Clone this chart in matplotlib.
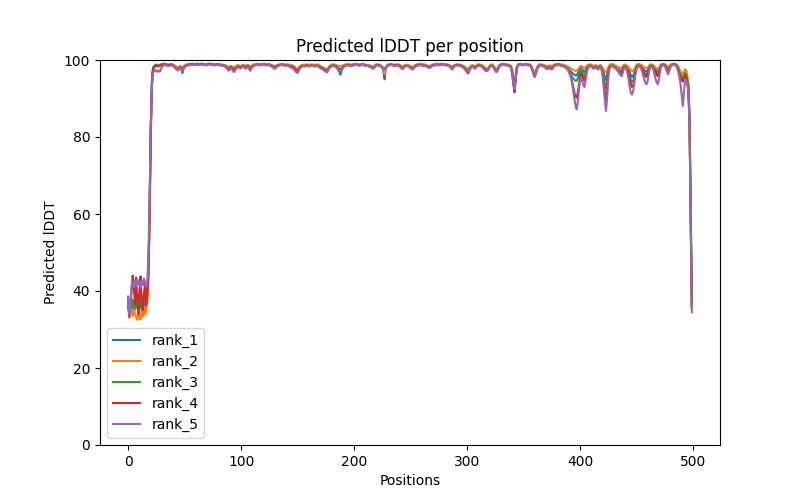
import matplotlib
matplotlib.use("Agg")
import matplotlib.pyplot as plt

# pLDDT per residue (500 positions per model)
rank_1 = [
    37.0, 34.0, 35.5, 36.8, 34.8, 36.5, 35.2, 37.8, 36.0, 34.5, 37.0, 35.6, 37.8, 36.2, 37.5, 35.4, 38.2, 39.5, 45.0, 60.0,
    82.0, 94.0, 97.8, 98.3, 98.6, 98.8, 98.5, 98.7, 98.6, 98.8, 98.9, 98.9, 99.0, 98.9, 98.8, 98.8, 98.7, 98.8, 98.9, 98.8,
    98.6, 98.4, 98.2, 98.0, 97.9, 98.1, 98.3, 98.0, 97.8, 98.2, 98.4, 98.6, 98.7, 98.8, 98.9, 98.9, 99.0, 99.0, 98.9, 98.9,
    99.0, 99.0, 98.9, 98.9, 99.0, 99.0, 99.0, 98.9, 98.9, 98.8, 98.9, 99.0, 99.0, 99.0, 98.9, 98.9, 98.8, 98.8, 98.9, 98.9,
    98.9, 98.8, 98.8, 98.7, 98.7, 98.6, 98.5, 98.3, 98.0, 97.8, 98.1, 98.3, 98.0, 97.8, 97.7, 98.0, 98.3, 98.5, 98.4, 98.2,
    98.3, 98.5, 98.6, 98.4, 98.2, 98.4, 98.6, 98.3, 98.0, 98.2, 98.5, 98.7, 98.8, 98.8, 98.9, 98.9, 98.8, 98.8, 98.9, 98.9,
    98.9, 98.9, 98.8, 98.8, 98.9, 98.8, 98.7, 98.6, 98.4, 98.3, 98.2, 98.4, 98.6, 98.7, 98.8, 98.8, 98.9, 98.8, 98.8, 98.7,
    98.7, 98.8, 98.7, 98.5, 98.4, 98.5, 98.3, 98.0, 97.8, 97.5, 97.3, 97.7, 98.2, 98.4, 98.5, 98.6, 98.5, 98.6, 98.7, 98.6,
    98.5, 98.6, 98.7, 98.7, 98.6, 98.5, 98.6, 98.7, 98.6, 98.4, 98.3, 98.1, 98.0, 97.8, 97.6, 97.4, 97.3, 97.7, 98.1, 98.4,
    98.6, 98.7, 98.7, 98.6, 98.5, 98.3, 98.0, 97.7, 97.5, 97.9, 98.3, 98.5, 98.6, 98.7, 98.8, 98.8, 98.7, 98.6, 98.7, 98.8,
    98.8, 98.9, 98.9, 98.8, 98.8, 98.7, 98.8, 98.9, 98.9, 98.8, 98.7, 98.6, 98.6, 98.5, 98.4, 98.3, 98.2, 98.0, 98.3, 98.6,
    98.8, 98.8, 98.7, 98.6, 98.4, 98.0, 97.0, 95.0, 97.5, 98.4, 98.7, 98.8, 98.9, 98.9, 98.8, 98.7, 98.6, 98.7, 98.8, 98.7,
    98.6, 98.4, 98.2, 98.0, 98.3, 98.5, 98.6, 98.6, 98.5, 98.4, 98.2, 98.0, 97.9, 98.2, 98.5, 98.6, 98.7, 98.8, 98.8, 98.8,
    98.8, 98.7, 98.7, 98.6, 98.5, 98.4, 98.3, 98.2, 98.4, 98.6, 98.7, 98.8, 98.8, 98.9, 98.9, 98.8, 98.8, 98.9, 98.9, 98.9,
    98.9, 98.8, 98.8, 98.7, 98.6, 98.4, 98.2, 98.0, 98.3, 98.6, 98.7, 98.8, 98.8, 98.7, 98.6, 98.5, 98.4, 98.2, 98.0, 97.7,
    97.3, 97.2, 97.6, 98.1, 98.4, 98.5, 98.3, 98.0, 98.3, 98.6, 98.7, 98.7, 98.6, 98.5, 98.3, 98.0, 97.7, 97.5, 97.4, 97.8,
    98.3, 98.6, 98.7, 98.5, 98.0, 97.5, 97.1, 97.5, 98.2, 98.6, 98.8, 98.9, 98.9, 98.9, 98.8, 98.8, 98.7, 98.6, 98.5, 98.2,
    97.0, 94.5, 92.5, 95.5, 98.0, 98.7, 98.9, 98.9, 98.9, 98.8, 98.8, 98.9, 98.9, 98.9, 98.8, 98.8, 98.6, 98.2, 97.5, 96.5,
    96.0, 96.8, 97.8, 98.4, 98.6, 98.7, 98.7, 98.6, 98.5, 98.3, 98.2, 98.0, 98.1, 98.3, 98.1, 98.0, 98.3, 98.6, 98.7, 98.8,
    98.8, 98.9, 98.8, 98.7, 98.6, 98.5, 98.4, 98.2, 98.0, 97.8, 97.6, 97.3, 97.0, 96.7, 96.4, 96.2, 96.0, 96.0, 96.5, 97.2,
    97.8, 98.0, 97.6, 97.0, 96.8, 97.4, 98.0, 98.4, 98.6, 98.7, 98.6, 98.3, 98.1, 98.3, 98.4, 98.2, 98.0, 98.3, 98.5, 98.2,
    97.6, 96.8, 95.5, 94.8, 96.0, 97.5, 98.3, 98.6, 98.7, 98.6, 98.4, 98.2, 98.0, 97.8, 97.6, 97.2, 96.9, 97.3, 98.0, 98.4,
    98.5, 98.3, 98.0, 97.5, 96.8, 96.0, 95.6, 95.8, 96.5, 97.5, 98.3, 98.6, 98.7, 98.6, 98.4, 98.1, 97.7, 97.3, 97.0, 97.0,
    97.4, 98.0, 98.5, 98.7, 98.6, 98.3, 97.9, 97.5, 97.1, 97.0, 97.6, 98.3, 98.7, 98.9, 98.9, 98.8, 98.5, 98.0, 97.7, 98.1,
    98.6, 98.8, 98.9, 99.0, 98.9, 98.8, 98.5, 98.0, 97.0, 96.0, 95.5, 95.3, 95.8, 96.5, 96.0, 94.5, 93.0, 84.0, 60.0, 36.0,
]

rank_2 = [
    35.5, 33.0, 34.2, 36.0, 33.5, 35.8, 34.0, 33.2, 32.5, 35.0, 33.0, 32.6, 35.5, 33.4, 36.0, 33.8, 35.2, 37.0, 44.0, 58.0,
    80.0, 93.0, 97.5, 98.0, 98.5, 98.8, 98.6, 98.8, 98.7, 98.9, 99.0, 99.0, 99.0, 98.9, 98.9, 98.8, 98.8, 98.9, 98.9, 98.9,
    98.8, 98.6, 98.4, 98.2, 98.1, 98.3, 98.5, 98.3, 98.1, 98.4, 98.6, 98.8, 98.9, 98.9, 99.0, 99.0, 99.0, 99.0, 99.0, 98.9,
    99.0, 99.0, 99.0, 99.0, 99.0, 99.0, 99.0, 99.0, 98.9, 98.9, 99.0, 99.0, 99.0, 99.0, 99.0, 98.9, 98.9, 98.9, 98.9, 99.0,
    99.0, 98.9, 98.9, 98.8, 98.8, 98.7, 98.6, 98.5, 98.3, 98.1, 98.3, 98.5, 98.3, 98.1, 98.0, 98.3, 98.5, 98.7, 98.6, 98.4,
    98.5, 98.7, 98.8, 98.6, 98.4, 98.6, 98.8, 98.5, 98.3, 98.5, 98.7, 98.9, 98.9, 98.9, 99.0, 99.0, 98.9, 98.9, 99.0, 99.0,
    99.0, 99.0, 98.9, 98.9, 99.0, 98.9, 98.8, 98.7, 98.6, 98.5, 98.4, 98.6, 98.7, 98.8, 98.9, 98.9, 99.0, 98.9, 98.9, 98.8,
    98.8, 98.9, 98.8, 98.7, 98.6, 98.7, 98.5, 98.3, 98.1, 97.9, 97.7, 98.0, 98.4, 98.6, 98.7, 98.8, 98.7, 98.8, 98.9, 98.8,
    98.7, 98.8, 98.9, 98.9, 98.8, 98.7, 98.8, 98.9, 98.8, 98.6, 98.5, 98.3, 98.2, 98.0, 97.9, 97.7, 97.6, 98.0, 98.3, 98.6,
    98.8, 98.9, 98.9, 98.8, 98.7, 98.6, 98.5, 98.4, 98.4, 98.5, 98.6, 98.7, 98.8, 98.9, 99.0, 99.0, 98.9, 98.8, 98.9, 99.0,
    99.0, 99.0, 99.0, 98.9, 98.9, 98.8, 98.9, 99.0, 99.0, 98.9, 98.8, 98.8, 98.7, 98.7, 98.6, 98.5, 98.4, 98.3, 98.5, 98.8,
    98.9, 98.9, 98.8, 98.7, 98.5, 98.2, 97.5, 96.3, 97.8, 98.6, 98.8, 98.9, 99.0, 99.0, 98.9, 98.8, 98.8, 98.9, 98.9, 98.8,
    98.8, 98.6, 98.4, 98.3, 98.5, 98.7, 98.8, 98.8, 98.7, 98.6, 98.4, 98.3, 98.2, 98.4, 98.7, 98.8, 98.9, 99.0, 99.0, 99.0,
    99.0, 98.9, 98.9, 98.8, 98.7, 98.6, 98.5, 98.4, 98.6, 98.8, 98.9, 99.0, 99.0, 99.0, 99.0, 99.0, 99.0, 99.0, 99.0, 99.0,
    99.0, 98.9, 98.9, 98.8, 98.7, 98.6, 98.4, 98.3, 98.5, 98.7, 98.8, 98.9, 98.9, 98.8, 98.8, 98.7, 98.6, 98.5, 98.3, 98.1,
    97.8, 97.7, 98.0, 98.4, 98.6, 98.7, 98.5, 98.3, 98.5, 98.8, 98.9, 98.9, 98.8, 98.7, 98.5, 98.3, 98.0, 97.8, 97.7, 98.1,
    98.5, 98.8, 98.9, 98.7, 98.3, 97.9, 97.6, 97.9, 98.5, 98.8, 98.9, 99.0, 99.0, 99.0, 98.9, 98.9, 98.8, 98.8, 98.7, 98.5,
    97.5, 95.0, 93.0, 96.0, 98.3, 98.8, 99.0, 99.0, 99.0, 98.9, 98.9, 99.0, 99.0, 99.0, 98.9, 98.9, 98.8, 98.5, 97.9, 97.0,
    96.6, 97.3, 98.2, 98.7, 98.9, 98.9, 98.9, 98.8, 98.7, 98.6, 98.5, 98.4, 98.5, 98.6, 98.5, 98.4, 98.6, 98.8, 98.9, 99.0,
    99.0, 99.0, 99.0, 98.9, 98.8, 98.8, 98.7, 98.6, 98.5, 98.4, 98.2, 98.0, 97.8, 97.6, 97.5, 97.3, 97.2, 97.2, 97.5, 97.9,
    98.3, 98.5, 98.3, 98.0, 97.9, 98.2, 98.5, 98.7, 98.8, 98.9, 98.8, 98.6, 98.4, 98.6, 98.7, 98.5, 98.3, 98.5, 98.7, 98.4,
    98.0, 97.5, 97.0, 96.8, 97.4, 98.2, 98.7, 98.9, 99.0, 98.9, 98.8, 98.6, 98.5, 98.3, 98.2, 98.0, 97.8, 98.1, 98.5, 98.8,
    98.8, 98.7, 98.5, 98.2, 97.8, 97.4, 97.1, 97.2, 97.6, 98.2, 98.7, 98.9, 99.0, 98.9, 98.8, 98.6, 98.4, 98.1, 97.9, 97.8,
    98.1, 98.5, 98.8, 98.9, 98.8, 98.6, 98.3, 98.0, 97.8, 97.7, 98.1, 98.6, 98.9, 99.0, 99.0, 98.9, 98.7, 98.4, 98.2, 98.5,
    98.8, 98.9, 99.0, 99.0, 99.0, 98.9, 98.7, 98.3, 97.6, 97.0, 96.5, 96.2, 97.0, 97.6, 97.3, 96.0, 94.0, 86.0, 64.0, 40.0,
]

rank_3 = [
    36.0, 34.2, 36.5, 38.0, 35.5, 37.5, 36.0, 38.5, 35.8, 37.2, 39.0, 36.4, 38.2, 37.0, 39.5, 36.8, 38.8, 40.5, 47.0, 62.0,
    83.0, 94.5, 98.0, 98.4, 98.7, 98.7, 98.5, 98.6, 98.5, 98.7, 98.8, 98.9, 98.9, 98.8, 98.7, 98.7, 98.6, 98.7, 98.8, 98.7,
    98.5, 98.3, 98.0, 97.8, 97.6, 97.9, 98.0, 97.4, 96.6, 97.6, 98.3, 98.5, 98.6, 98.7, 98.8, 98.8, 98.9, 98.9, 98.8, 98.8,
    98.9, 98.9, 98.8, 98.8, 98.9, 98.9, 98.9, 98.8, 98.8, 98.7, 98.8, 98.9, 98.9, 98.9, 98.8, 98.8, 98.7, 98.7, 98.8, 98.8,
    98.8, 98.7, 98.7, 98.6, 98.6, 98.5, 98.4, 98.2, 97.9, 97.7, 98.0, 98.2, 97.9, 97.6, 97.5, 97.9, 98.2, 98.4, 98.3, 98.1,
    98.2, 98.4, 98.5, 98.3, 98.1, 98.3, 98.5, 98.2, 97.9, 98.1, 98.4, 98.6, 98.7, 98.7, 98.8, 98.8, 98.7, 98.7, 98.8, 98.8,
    98.8, 98.8, 98.7, 98.7, 98.8, 98.7, 98.6, 98.5, 98.3, 98.2, 98.1, 98.3, 98.5, 98.6, 98.7, 98.7, 98.8, 98.7, 98.7, 98.6,
    98.6, 98.7, 98.6, 98.4, 98.3, 98.4, 98.2, 97.9, 97.6, 97.3, 97.1, 97.5, 98.1, 98.3, 98.4, 98.5, 98.4, 98.5, 98.6, 98.5,
    98.4, 98.5, 98.6, 98.6, 98.5, 98.4, 98.5, 98.6, 98.5, 98.3, 98.2, 98.0, 97.9, 97.7, 97.5, 97.3, 97.2, 97.6, 98.0, 98.3,
    98.5, 98.6, 98.6, 98.5, 98.3, 98.0, 97.5, 96.8, 96.1, 97.2, 98.1, 98.4, 98.5, 98.6, 98.7, 98.7, 98.6, 98.5, 98.6, 98.7,
    98.7, 98.8, 98.8, 98.7, 98.7, 98.6, 98.7, 98.8, 98.8, 98.7, 98.6, 98.5, 98.5, 98.4, 98.3, 98.2, 98.1, 97.9, 98.2, 98.5,
    98.7, 98.7, 98.6, 98.5, 98.3, 98.1, 97.9, 97.8, 98.1, 98.4, 98.6, 98.7, 98.8, 98.8, 98.7, 98.6, 98.5, 98.6, 98.7, 98.6,
    98.5, 98.3, 98.1, 97.9, 98.2, 98.4, 98.5, 98.5, 98.4, 98.3, 98.1, 97.9, 97.8, 98.1, 98.4, 98.5, 98.6, 98.7, 98.7, 98.7,
    98.7, 98.6, 98.6, 98.5, 98.4, 98.3, 98.2, 98.1, 98.3, 98.5, 98.6, 98.7, 98.7, 98.8, 98.8, 98.7, 98.7, 98.8, 98.8, 98.8,
    98.8, 98.7, 98.7, 98.6, 98.4, 98.1, 97.8, 97.5, 98.0, 98.5, 98.6, 98.7, 98.7, 98.6, 98.5, 98.4, 98.3, 98.1, 97.9, 97.6,
    97.2, 97.1, 97.5, 98.0, 98.3, 98.4, 98.2, 97.9, 98.2, 98.5, 98.6, 98.6, 98.5, 98.4, 98.2, 97.9, 97.6, 97.4, 97.3, 97.7,
    98.2, 98.5, 98.6, 98.4, 97.9, 97.4, 97.0, 97.4, 98.1, 98.5, 98.7, 98.8, 98.8, 98.8, 98.7, 98.7, 98.6, 98.5, 98.4, 98.1,
    96.9, 94.3, 92.3, 95.3, 97.9, 98.6, 98.8, 98.8, 98.8, 98.7, 98.7, 98.8, 98.8, 98.8, 98.7, 98.7, 98.5, 98.0, 97.2, 96.0,
    95.6, 96.5, 97.6, 98.3, 98.5, 98.6, 98.6, 98.5, 98.4, 98.2, 98.0, 97.8, 97.9, 98.1, 97.9, 97.8, 98.1, 98.5, 98.6, 98.7,
    98.7, 98.8, 98.7, 98.6, 98.5, 98.4, 98.3, 98.1, 98.0, 97.8, 97.4, 96.9, 96.3, 95.7, 95.2, 94.9, 94.6, 94.6, 95.2, 96.0,
    96.8, 97.2, 96.6, 96.0, 95.8, 96.6, 97.6, 98.2, 98.5, 98.6, 98.5, 98.2, 98.0, 98.2, 98.3, 98.1, 97.9, 98.2, 98.4, 98.0,
    97.0, 95.8, 93.5, 92.5, 94.5, 97.0, 98.1, 98.5, 98.6, 98.5, 98.3, 98.1, 97.9, 97.6, 97.3, 96.8, 96.5, 96.9, 97.8, 98.3,
    98.4, 98.1, 97.6, 96.8, 95.8, 94.8, 94.3, 94.5, 95.5, 97.0, 98.1, 98.5, 98.6, 98.5, 98.2, 97.8, 97.2, 96.6, 96.2, 96.1,
    96.8, 97.7, 98.3, 98.6, 98.5, 98.1, 97.5, 96.9, 96.4, 96.2, 97.1, 98.0, 98.6, 98.8, 98.8, 98.7, 98.3, 97.7, 97.3, 97.8,
    98.3, 98.6, 98.8, 98.9, 98.8, 98.6, 98.3, 97.7, 96.8, 96.0, 95.7, 95.5, 96.0, 96.6, 96.2, 94.8, 93.0, 84.0, 60.0, 36.5,
]

rank_4 = [
    38.5, 33.5, 36.0, 40.0, 44.0, 41.0, 36.5, 43.5, 38.0, 34.0, 40.5, 43.8, 37.0, 35.0, 39.5, 42.0, 36.5, 39.0, 46.0, 61.0,
    81.0, 93.5, 97.6, 98.2, 98.5, 98.6, 98.3, 98.5, 98.4, 98.7, 98.8, 98.8, 98.9, 98.8, 98.7, 98.7, 98.6, 98.7, 98.8, 98.7,
    98.5, 98.2, 97.9, 97.6, 97.5, 97.8, 98.1, 97.8, 97.4, 98.0, 98.3, 98.5, 98.6, 98.7, 98.8, 98.8, 98.9, 98.9, 98.8, 98.8,
    98.9, 98.9, 98.8, 98.8, 98.9, 98.9, 98.9, 98.8, 98.7, 98.7, 98.8, 98.9, 98.9, 98.9, 98.8, 98.8, 98.7, 98.7, 98.8, 98.8,
    98.8, 98.7, 98.7, 98.6, 98.6, 98.5, 98.4, 98.1, 97.8, 97.6, 97.9, 98.1, 97.8, 97.5, 97.4, 97.8, 98.1, 98.3, 98.2, 98.0,
    98.1, 98.3, 98.4, 98.2, 98.0, 98.2, 98.4, 98.1, 97.8, 98.0, 98.3, 98.5, 98.7, 98.7, 98.8, 98.8, 98.7, 98.7, 98.8, 98.8,
    98.8, 98.8, 98.7, 98.7, 98.8, 98.7, 98.6, 98.5, 98.3, 98.1, 98.0, 98.2, 98.5, 98.6, 98.7, 98.7, 98.8, 98.7, 98.7, 98.6,
    98.6, 98.7, 98.6, 98.4, 98.2, 98.3, 98.1, 97.8, 97.5, 97.2, 97.0, 97.4, 98.0, 98.3, 98.4, 98.5, 98.4, 98.5, 98.6, 98.5,
    98.4, 98.5, 98.6, 98.6, 98.5, 98.4, 98.5, 98.6, 98.5, 98.3, 98.1, 97.9, 97.8, 97.6, 97.3, 97.1, 97.0, 97.5, 97.9, 98.2,
    98.4, 98.5, 98.5, 98.4, 98.2, 97.9, 97.6, 97.3, 97.1, 97.6, 98.1, 98.3, 98.5, 98.6, 98.7, 98.7, 98.6, 98.5, 98.6, 98.7,
    98.7, 98.8, 98.8, 98.7, 98.7, 98.6, 98.7, 98.8, 98.8, 98.7, 98.6, 98.5, 98.5, 98.4, 98.3, 98.2, 98.0, 97.8, 98.1, 98.5,
    98.7, 98.7, 98.6, 98.5, 98.3, 98.1, 97.9, 97.7, 98.0, 98.4, 98.6, 98.7, 98.8, 98.8, 98.7, 98.6, 98.5, 98.6, 98.7, 98.6,
    98.5, 98.3, 98.0, 97.8, 98.1, 98.4, 98.5, 98.5, 98.4, 98.2, 98.0, 97.8, 97.7, 98.0, 98.4, 98.5, 98.6, 98.7, 98.7, 98.7,
    98.7, 98.6, 98.6, 98.5, 98.4, 98.3, 98.2, 98.0, 98.3, 98.5, 98.6, 98.7, 98.7, 98.8, 98.8, 98.7, 98.7, 98.8, 98.8, 98.8,
    98.8, 98.7, 98.7, 98.6, 98.5, 98.3, 98.1, 97.9, 98.2, 98.5, 98.6, 98.7, 98.7, 98.6, 98.5, 98.4, 98.2, 98.0, 97.7, 97.3,
    96.8, 96.5, 97.2, 97.9, 98.3, 98.4, 98.2, 97.9, 98.2, 98.5, 98.6, 98.6, 98.5, 98.4, 98.2, 97.8, 97.5, 97.3, 97.2, 97.6,
    98.1, 98.4, 98.5, 98.3, 97.8, 97.3, 96.9, 97.3, 98.0, 98.5, 98.7, 98.8, 98.8, 98.8, 98.7, 98.7, 98.6, 98.5, 98.3, 98.0,
    96.6, 93.8, 91.6, 94.8, 97.7, 98.5, 98.8, 98.8, 98.8, 98.7, 98.7, 98.8, 98.8, 98.8, 98.7, 98.7, 98.5, 98.1, 97.4, 96.4,
    96.0, 96.7, 97.7, 98.3, 98.5, 98.6, 98.6, 98.5, 98.4, 98.2, 98.0, 97.8, 97.9, 98.1, 97.9, 97.7, 98.1, 98.5, 98.6, 98.7,
    98.7, 98.8, 98.7, 98.6, 98.5, 98.4, 98.3, 98.1, 97.9, 97.5, 97.0, 96.3, 95.5, 94.5, 93.0, 91.5, 90.5, 90.2, 91.5, 93.5,
    95.5, 96.5, 96.0, 95.0, 94.6, 95.8, 97.3, 98.0, 98.4, 98.5, 98.4, 98.1, 97.9, 98.1, 98.2, 98.0, 97.7, 98.0, 98.3, 97.8,
    96.5, 94.0, 91.0, 89.8, 92.5, 96.2, 97.9, 98.4, 98.5, 98.4, 98.2, 98.0, 97.7, 97.4, 97.0, 96.5, 96.2, 96.7, 97.6, 98.2,
    98.3, 97.9, 97.2, 96.2, 95.0, 93.8, 93.0, 93.3, 94.6, 96.6, 97.9, 98.4, 98.5, 98.4, 98.1, 97.6, 96.9, 96.2, 95.7, 95.6,
    96.5, 97.5, 98.2, 98.5, 98.4, 98.0, 97.3, 96.6, 96.0, 95.8, 96.8, 97.9, 98.5, 98.8, 98.8, 98.6, 98.2, 97.5, 97.0, 97.6,
    98.2, 98.6, 98.8, 98.9, 98.8, 98.6, 98.2, 97.5, 96.4, 95.3, 94.8, 94.4, 95.2, 96.0, 95.5, 94.0, 92.5, 83.0, 59.0, 35.5,
]

rank_5 = [
    38.5, 33.8, 36.0, 41.5, 42.5, 41.0, 42.8, 41.2, 43.0, 41.8, 42.5, 40.8, 42.6, 41.5, 43.2, 42.0, 41.0, 43.0, 50.0, 65.0,
    83.0, 93.0, 96.8, 97.0, 97.4, 97.2, 96.9, 97.3, 97.0, 97.6, 98.2, 98.5, 98.7, 98.6, 98.5, 98.5, 98.4, 98.5, 98.6, 98.5,
    98.4, 98.1, 97.8, 97.5, 97.3, 97.7, 98.0, 97.6, 97.2, 97.8, 98.2, 98.4, 98.5, 98.6, 98.7, 98.7, 98.8, 98.8, 98.7, 98.7,
    98.8, 98.8, 98.7, 98.7, 98.8, 98.8, 98.8, 98.7, 98.6, 98.6, 98.7, 98.8, 98.8, 98.8, 98.7, 98.7, 98.6, 98.6, 98.7, 98.7,
    98.7, 98.6, 98.6, 98.5, 98.5, 98.4, 98.2, 97.9, 97.5, 97.2, 97.6, 97.9, 97.4, 97.0, 96.9, 97.4, 97.9, 98.2, 98.0, 97.8,
    97.9, 98.2, 98.3, 98.0, 97.7, 98.0, 98.2, 97.7, 97.2, 97.7, 98.1, 98.4, 98.6, 98.6, 98.7, 98.7, 98.6, 98.6, 98.7, 98.7,
    98.7, 98.7, 98.6, 98.6, 98.7, 98.6, 98.4, 98.3, 98.0, 97.8, 97.7, 98.0, 98.3, 98.5, 98.6, 98.6, 98.7, 98.6, 98.6, 98.5,
    98.5, 98.6, 98.5, 98.2, 98.0, 98.1, 97.8, 97.4, 97.1, 96.8, 96.6, 97.1, 97.8, 98.1, 98.3, 98.4, 98.3, 98.4, 98.5, 98.4,
    98.3, 98.4, 98.5, 98.5, 98.4, 98.3, 98.4, 98.5, 98.4, 98.1, 97.9, 97.7, 97.6, 97.4, 97.1, 96.9, 96.8, 97.3, 97.8, 98.1,
    98.3, 98.4, 98.4, 98.3, 98.1, 97.8, 97.5, 97.2, 97.1, 97.5, 98.0, 98.2, 98.4, 98.5, 98.6, 98.6, 98.5, 98.4, 98.5, 98.6,
    98.6, 98.7, 98.7, 98.6, 98.6, 98.5, 98.6, 98.7, 98.7, 98.6, 98.5, 98.4, 98.4, 98.3, 98.2, 98.0, 97.9, 97.7, 98.0, 98.4,
    98.6, 98.6, 98.5, 98.4, 98.2, 98.0, 97.8, 97.6, 97.9, 98.3, 98.5, 98.6, 98.7, 98.7, 98.6, 98.5, 98.4, 98.5, 98.6, 98.5,
    98.4, 98.1, 97.8, 97.6, 98.0, 98.3, 98.4, 98.4, 98.3, 98.1, 97.9, 97.6, 97.5, 97.9, 98.3, 98.4, 98.5, 98.6, 98.6, 98.6,
    98.6, 98.5, 98.5, 98.4, 98.3, 98.1, 98.0, 97.9, 98.1, 98.4, 98.5, 98.6, 98.6, 98.7, 98.7, 98.6, 98.6, 98.7, 98.7, 98.7,
    98.7, 98.6, 98.6, 98.5, 98.4, 98.2, 98.0, 97.8, 98.1, 98.4, 98.5, 98.6, 98.6, 98.5, 98.4, 98.3, 98.1, 97.9, 97.6, 97.2,
    96.9, 96.8, 97.2, 97.8, 98.2, 98.3, 98.0, 97.7, 98.0, 98.4, 98.5, 98.5, 98.4, 98.3, 98.0, 97.6, 97.3, 97.1, 97.2, 97.6,
    98.1, 98.4, 98.5, 98.2, 97.7, 97.2, 96.9, 97.2, 97.9, 98.4, 98.6, 98.7, 98.7, 98.7, 98.6, 98.6, 98.5, 98.4, 98.2, 97.9,
    96.7, 94.0, 92.4, 95.0, 97.6, 98.4, 98.7, 98.7, 98.7, 98.6, 98.6, 98.7, 98.7, 98.7, 98.6, 98.6, 98.4, 98.0, 97.3, 96.3,
    95.9, 96.6, 97.6, 98.2, 98.4, 98.5, 98.5, 98.4, 98.3, 98.0, 97.8, 97.6, 97.7, 97.9, 97.7, 97.5, 97.9, 98.3, 98.5, 98.6,
    98.6, 98.7, 98.6, 98.5, 98.4, 98.3, 98.2, 98.0, 97.9, 97.6, 97.2, 96.5, 95.5, 94.0, 92.0, 90.0, 88.2, 87.2, 89.0, 92.0,
    94.5, 95.2, 94.5, 93.5, 93.0, 94.8, 96.8, 97.8, 98.2, 98.4, 98.3, 98.0, 97.7, 98.0, 98.1, 97.8, 97.5, 97.9, 98.2, 97.6,
    96.0, 93.0, 89.5, 86.8, 90.0, 95.0, 97.5, 98.2, 98.4, 98.3, 98.1, 97.9, 97.6, 97.3, 96.9, 96.4, 96.0, 95.8, 96.8, 97.8,
    98.1, 97.6, 96.6, 95.0, 93.0, 91.5, 91.0, 91.8, 93.8, 96.2, 97.6, 98.2, 98.4, 98.2, 97.8, 97.0, 95.9, 94.8, 94.0, 93.7,
    94.8, 96.6, 97.9, 98.4, 98.2, 97.4, 96.2, 95.0, 94.1, 93.7, 95.3, 97.2, 98.3, 98.6, 98.6, 98.4, 97.8, 96.9, 96.3, 97.2,
    98.0, 98.5, 98.7, 98.8, 98.7, 98.4, 97.9, 97.0, 95.5, 93.7, 91.0, 88.0, 91.5, 94.5, 94.8, 93.5, 92.0, 82.0, 58.0, 34.5,
]

ranks = {"rank_1": rank_1, "rank_2": rank_2, "rank_3": rank_3, "rank_4": rank_4, "rank_5": rank_5}


def main():
    plt.figure(figsize=(8, 5), dpi=100)
    for name, vals in ranks.items():
        plt.plot(range(len(vals)), vals, label=name)
    plt.title("Predicted lDDT per position")
    plt.xlabel("Positions")
    plt.ylabel("Predicted lDDT")
    plt.ylim(0, 100)
    plt.legend(loc="lower left")
    plt.savefig("out.png")


if __name__ == "__main__":
    main()
